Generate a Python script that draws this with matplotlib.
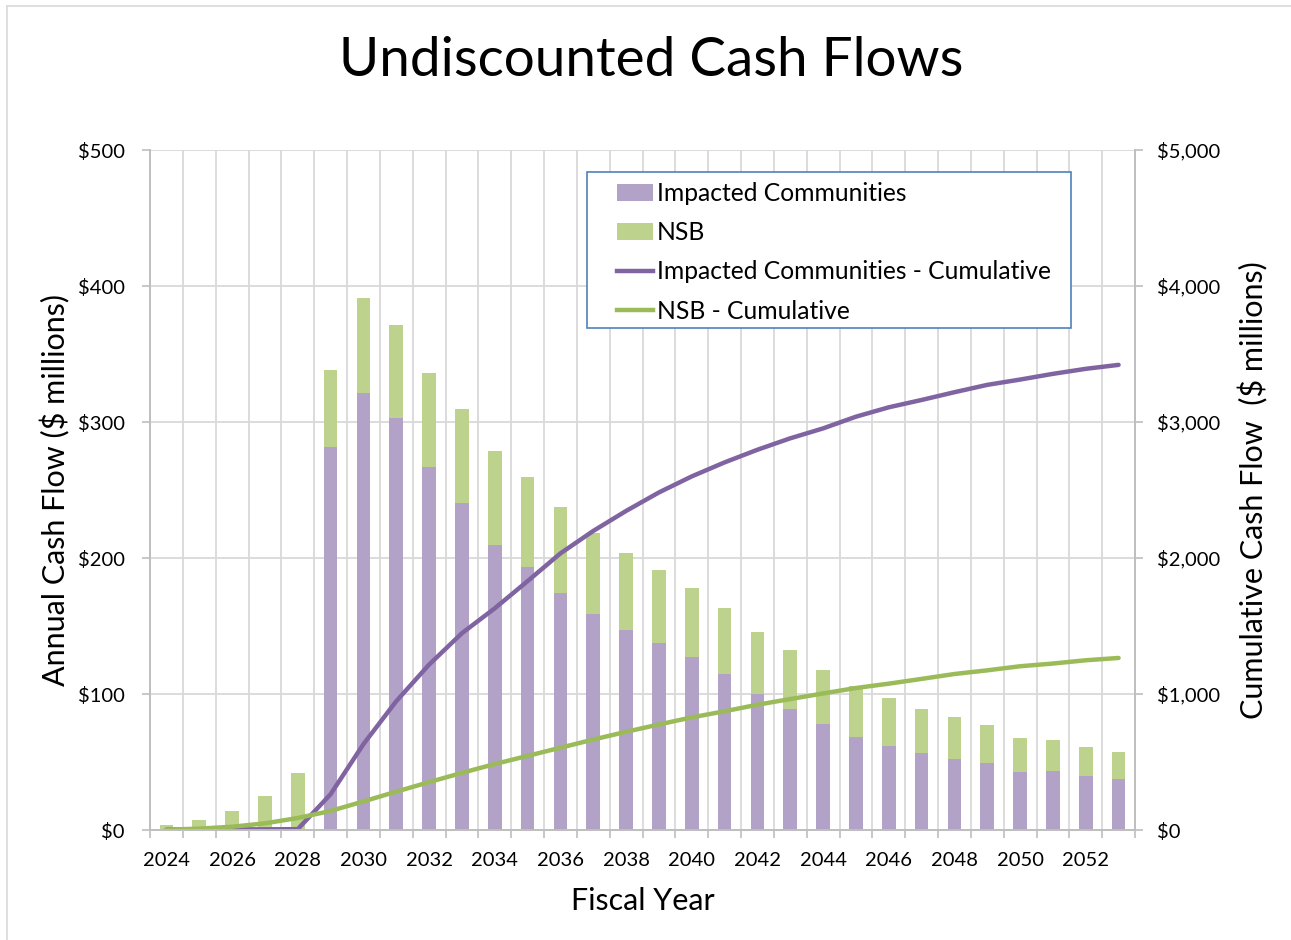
import matplotlib
matplotlib.use("Agg")
import matplotlib.pyplot as plt
from matplotlib.patches import Rectangle, Patch
from matplotlib.lines import Line2D
from matplotlib.ticker import FuncFormatter, MultipleLocator

plt.rcParams['font.family'] = ['Lato', 'DejaVu Sans']

years = list(range(2024, 2054))
impacted = [1.0, 0, 0, 0, 0, 281.6, 321.6, 302.9, 266.8, 240.5,
            209.7, 193.4, 174.4, 159.0, 147.4, 137.6, 127.5, 115.0, 100.2, 89.2,
            78.1, 68.1, 61.9, 56.5, 52.3, 49.1, 42.5, 43.2, 40.0, 37.8]
nsb = [2.4, 7.6, 14.2, 25.0, 41.8, 56.6, 69.7, 68.7, 69.2, 68.7,
       68.8, 66.1, 62.9, 59.4, 56.3, 53.3, 50.1, 47.9, 45.3, 43.0,
       39.8, 37.6, 35.2, 32.7, 30.7, 28.0, 25.3, 23.1, 21.2, 19.9]
impacted_cum = [3, 4, 5, 5, 6, 263, 631, 947, 1216, 1447,
                1630, 1830, 2034, 2199, 2346, 2482, 2600, 2703, 2796, 2880,
                2953, 3039, 3108, 3162, 3219, 3273, 3312, 3354, 3391, 3420]
nsb_cum = [2, 10, 24, 49, 88, 140, 210, 282, 352, 420,
           485, 545, 605, 665, 722, 776, 828, 873, 921, 963,
           1004, 1044, 1076, 1111, 1147, 1174, 1204, 1224, 1248, 1265]
xtick_years = list(range(2024, 2054, 2))

C_IC_BAR = '#B2A2C7'
C_NSB_BAR = '#BDD28D'
C_IC_LINE = '#8064A2'
C_NSB_LINE = '#9BBB59'
GRID = '#D9D9D9'
SPINE = '#BFBFBF'
TXT = '#000000'

W, H = 1291, 940
fig = plt.figure(figsize=(W / 100, H / 100), dpi=100)
L, R, T, B = 150, 1135, 150, 830
ax = fig.add_axes([L / W, 1 - B / H, (R - L) / W, (B - T) / H])
ax2 = ax.twinx()

# bars
ax.bar(years, impacted, width=0.42, color=C_IC_BAR, zorder=2)
ax.bar(years, nsb, width=0.42, bottom=impacted, color=C_NSB_BAR, zorder=2)

# lines
LW = 3.2
ax2.plot(years, impacted_cum, color=C_IC_LINE, lw=LW, solid_capstyle='round', solid_joinstyle='round')
ax2.plot(years, nsb_cum, color=C_NSB_LINE, lw=LW, solid_capstyle='round', solid_joinstyle='round')

ax.set_xlim(2023.5, 2053.5)
ax.set_ylim(0, 500)
ax2.set_ylim(0, 5000)

ax.yaxis.set_major_locator(MultipleLocator(100))
ax2.yaxis.set_major_locator(MultipleLocator(1000))
ax.yaxis.set_major_formatter(FuncFormatter(lambda v, p: f"${v:,.0f}"))
ax2.yaxis.set_major_formatter(FuncFormatter(lambda v, p: f"${v:,.0f}"))

ax.set_xticks(xtick_years)
ax.set_xticklabels([str(y) for y in xtick_years])
ax.set_xticks([y + 0.5 for y in range(2023, 2054)], minor=True)
ax.tick_params(axis='x', which='major', length=0, pad=16, labelsize=14.5, colors=TXT)
ax.tick_params(axis='x', which='minor', length=6, color=SPINE, width=1.2)
ax.tick_params(axis='y', which='major', length=6, color=SPINE, width=1.2, pad=12, labelsize=14.5, labelcolor=TXT)
ax2.tick_params(axis='y', which='major', length=6, color=SPINE, width=1.2, pad=10, labelsize=14.5, labelcolor=TXT)

ax.set_axisbelow(True)
ax.grid(True, axis='y', which='major', color=GRID, lw=1.3, zorder=0)
ax.grid(True, axis='x', which='minor', color=GRID, lw=1.3, zorder=0)

for a in (ax, ax2):
    a.spines['top'].set_visible(False)
    for s in ('left', 'right', 'bottom'):
        a.spines[s].set_color(SPINE)
        a.spines[s].set_linewidth(1.3)

ax.set_xlabel('Fiscal Year', fontsize=22, color=TXT)
ax.xaxis.set_label_coords(0.5, (830 - 901) / 680, transform=ax.transAxes)
ax.set_ylabel('Annual Cash Flow ($ millions)', fontsize=22, color=TXT)
ax.yaxis.set_label_coords((55 - 150) / 985, 0.5)
ax2.set_ylabel('Cumulative Cash Flow  ($ millions)', fontsize=22, color=TXT, rotation=90)
ax2.yaxis.set_label_coords((1253 - 150) / 985, 0.5)
ax.xaxis.label.set_va('center')
ax.yaxis.label.set_va('center')
ax2.yaxis.label.set_va('center')

fig.text(651 / W, 1 - 60 / H, 'Undiscounted Cash Flows', fontsize=39.5, ha='center', va='center', color=TXT)

# legend box
def px_to_ax(x, y):
    return (x - L) / (R - L), (B - y) / (B - T)

x0, y1 = px_to_ax(587, 172)
x1, y0 = px_to_ax(1071, 328)
ax2.add_patch(Rectangle((x0, y0), x1 - x0, y1 - y0, transform=ax2.transAxes,
                        facecolor='white', edgecolor='#4F81BD', lw=1.2, zorder=5, clip_on=False))

handles = [Patch(facecolor=C_IC_BAR, edgecolor='none'),
           Patch(facecolor=C_NSB_BAR, edgecolor='none'),
           Line2D([], [], color=C_IC_LINE, lw=LW),
           Line2D([], [], color=C_NSB_LINE, lw=LW)]
labels = ['Impacted Communities', 'NSB', 'Impacted Communities - Cumulative', 'NSB - Cumulative']
lx, ly = px_to_ax(617, 182)
leg = ax2.legend(handles, labels, loc='upper left', bbox_to_anchor=(lx, ly), bbox_transform=ax2.transAxes,
                 frameon=False, fontsize=17.7, borderpad=0, borderaxespad=0, handlelength=1.46,
                 handletextpad=0.16, labelspacing=0.66)
leg.set_zorder(6)

# chart area border (top/left visible)
fig.add_artist(Line2D([7 / W, 1], [1 - 6 / H, 1 - 6 / H], color=GRID, lw=1.2, transform=fig.transFigure))
fig.add_artist(Line2D([7 / W, 7 / W], [0, 1 - 6 / H], color=GRID, lw=1.2, transform=fig.transFigure))

fig.savefig('out.png', dpi=100)
